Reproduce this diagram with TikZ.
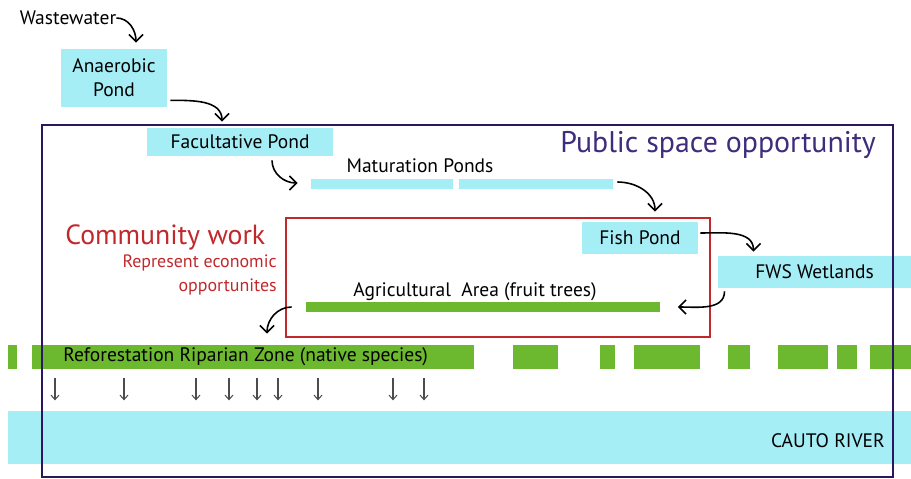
\documentclass[tikz,border=0pt]{standalone}
\usepackage{fontspec}
\setmainfont{PT Sans}
\usetikzlibrary{arrows.meta}
\definecolor{pond}{HTML}{A6EEF6}
\definecolor{leaf}{HTML}{6CB82E}
\definecolor{plum}{HTML}{2C1660}
\definecolor{plumtext}{HTML}{3E2C7C}
\definecolor{brick}{HTML}{C1282C}

\begin{document}
\begin{tikzpicture}[x=0.02cm,y=-0.02cm]
        \useasboundingbox (0,0) rectangle (911,479);

        \begin{scope}[every node/.style={fill=pond,inner sep=0pt,font=\fontsize{11.1}{13.6}\selectfont}]
            \node[minimum width=2.12cm,minimum height=1.16cm,align=center] (an) at (114,78) {Anaerobic\\Pond};
            \node[minimum width=3.72cm,minimum height=0.56cm] (fac) at (240,142) {Facultative Pond};
            \node[minimum width=2.84cm,minimum height=0.2cm] (mat1) at (382,184) {};
            \node[minimum width=3.08cm,minimum height=0.2cm] (mat2) at (536,184) {};
            \node[minimum width=2.32cm,minimum height=0.64cm] (fish) at (640,238) {Fish Pond};
            \node[minimum width=3.86cm,minimum height=0.64cm] (fws) at (814.5,272) {FWS Wetlands};
            \node[minimum width=18.06cm,minimum height=1.06cm] (riv) at (459.5,437.5) {};
        \end{scope}

        \begin{scope}[every node/.style={fill=leaf,inner sep=0pt}]
            \node[minimum width=7.08cm,minimum height=0.2cm] (agr) at (483,307) {};
            \node[minimum width=8.84cm,minimum height=0.48cm] (ref) at (253,357) {};
        \end{scope}
        \foreach \a/\b in {8/17,513/558,600/615,634/700,728/750,778/828,837/857,870/911}
            \fill[leaf] (\a,345) rectangle (\b,369);

        \begin{scope}[every node/.style={inner sep=0pt,font=\fontsize{11.1}{13}\selectfont}]
            \node (ww) at (68,18) {Wastewater};
            \node (mat) at (420,166) {Maturation Ponds};
            \node (agrt) at (475,292) {Agricultural\ \ Area (fruit trees)};
            \node[anchor=west] (reft) at (63,357) {Reforestation Riparian Zone (native species)};
            \node[anchor=east] (rivt) at (885,441) {CAUTO RIVER};
            \node[anchor=west,text=plumtext,font=\fontsize{17}{20}\selectfont] (pub) at (560,145) {Public space opportunity};
            \node[anchor=west,text=brick,font=\fontsize{15.8}{19}\selectfont] (com) at (65,237) {Community work};
            \node[anchor=east,text=brick,font=\fontsize{10.2}{12}\selectfont] (rep) at (277,263) {Represent economic};
            \node[anchor=east,text=brick,font=\fontsize{10.2}{12}\selectfont] (opp) at (277,287) {opportunites};
        \end{scope}

        \draw[brick,line width=1.2pt] (286,218) rectangle (710,337);
        \draw[plum,line width=1.6pt] (42,125) rectangle (893,477);

        \begin{scope}[>={Straight Barb[length=4pt,width=8pt]},
                    every edge/.style={draw=black,line width=0.9pt}]
            \path [->] (ww.east) edge [out=0,in=90] ([shift={(22,-6)}]an.north);
            \path [->] ([shift={(3,-7)}]an.south east) edge [out=0,in=90] ([shift={(-18,-6)}]fac.north);
            \path [->] ([shift={(32,4)}]fac.south) edge [out=-90,in=180] ([shift={(-13,-1)}]mat1.west);
            \path [->] ([shift={(4,-2)}]mat2.east) edge [out=0,in=90] ([shift={(15,-10)}]fish.north);
            \path [->] ([shift={(2,-5)}]fish.east) edge [out=0,in=90] ([shift={(-61,-4)}]fws.north);
            \path [->] ([shift={(-90,3)}]fws.south) edge [out=-90,in=0] ([xshift=10]agr.east);
            \path [->] ([xshift=-8]agr.west) edge [out=180,in=90] ([shift={(14,-11)}]ref.north);
        \end{scope}

        \foreach \x in {55,124,196,229,257,278,318,393,424}
            \draw[black!70,line width=0.6pt,-{Straight Barb[length=2.5pt,width=4.5pt]}] (\x,0 |- ref.south) ++(0,9) -- ++(0,22);
    \end{tikzpicture}
\end{document}
